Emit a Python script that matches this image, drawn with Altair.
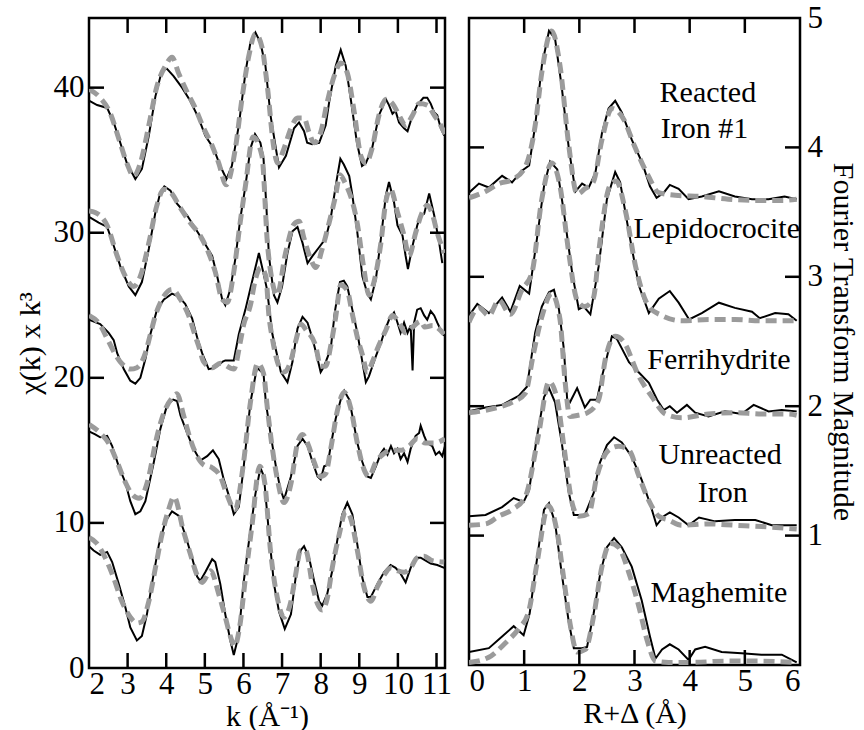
import altair as alt
import pandas as pd

FONT = "Liberation Serif"

# ---------------- k-space (left panel): [k, chi*k^3] ----------------
K_REACTED_DATA = [[2.0,39.1],[2.21,38.8],[2.47,38.6],[2.64,37.6],[2.81,36.2],[2.98,34.8],[3.2,33.7],[3.37,34.4],[3.55,36.7],[3.72,39.4],[3.89,41.2],[4.02,41.3],[4.19,40.8],[4.41,40.0],[4.62,39.1],[4.84,37.9],[5.01,36.7],[5.23,35.8],[5.4,34.6],[5.56,33.7],[5.7,34.6],[5.88,37.4],[6.05,41.0],[6.18,43.1],[6.31,43.8],[6.44,43.1],[6.57,41.5],[6.7,38.1],[6.92,34.5],[7.1,35.3],[7.31,37.2],[7.44,37.6],[7.57,37.0],[7.65,36.2],[7.78,36.1],[7.96,36.2],[8.13,37.4],[8.22,39.0],[8.39,41.5],[8.52,42.6],[8.65,41.5],[8.78,39.2],[8.94,36.2],[9.07,34.6],[9.17,34.8],[9.33,35.8],[9.51,38.1],[9.69,39.2],[9.77,38.8],[9.86,38.2],[9.94,38.4],[10.03,37.6],[10.16,37.2],[10.25,37.0],[10.38,38.1],[10.5,38.8],[10.66,39.3],[10.76,39.3],[10.85,38.9],[10.94,38.3],[11.02,38.1],[11.11,37.2],[11.2,36.7]]
K_REACTED_FIT = [[2.0,39.9],[2.29,39.3],[2.54,38.3],[2.77,36.5],[2.98,34.8],[3.16,33.9],[3.33,34.8],[3.55,37.4],[3.76,40.1],[3.98,41.5],[4.15,42.1],[4.32,41.0],[4.54,39.7],[4.75,38.6],[4.97,37.2],[5.19,36.0],[5.36,34.8],[5.55,33.3],[5.79,35.8],[5.96,39.2],[6.14,42.2],[6.31,43.7],[6.48,42.8],[6.61,40.3],[6.79,35.8],[6.88,34.8],[7.05,35.8],[7.23,37.2],[7.4,37.9],[7.57,37.9],[7.7,36.9],[7.83,36.2],[8.0,36.9],[8.17,39.0],[8.35,40.8],[8.52,41.7],[8.69,41.0],[8.87,38.3],[9.04,35.3],[9.17,34.8],[9.33,35.8],[9.51,38.1],[9.69,39.2],[9.86,38.9],[10.03,38.1],[10.2,37.4],[10.38,38.1],[10.55,38.9],[10.76,38.8],[10.94,38.1],[11.11,37.4],[11.22,36.8]]

K_LEPIDO_DATA = [[2.0,31.1],[2.25,30.7],[2.47,30.4],[2.64,29.1],[2.81,27.7],[3.03,26.3],[3.2,25.7],[3.37,26.6],[3.55,28.9],[3.72,31.4],[3.85,32.8],[3.95,33.2],[4.11,32.9],[4.28,32.0],[4.54,31.2],[4.8,30.1],[5.01,29.2],[5.19,28.4],[5.32,27.0],[5.45,25.4],[5.53,25.0],[5.66,26.1],[5.79,28.2],[5.92,31.0],[6.05,33.2],[6.18,35.8],[6.3,36.8],[6.44,36.2],[6.52,35.1],[6.59,32.0],[6.66,28.4],[6.79,25.7],[6.88,25.2],[7.0,26.3],[7.14,28.6],[7.27,30.1],[7.4,30.4],[7.53,29.3],[7.66,27.9],[7.79,28.4],[7.96,29.0],[8.13,29.6],[8.26,31.0],[8.4,33.4],[8.51,35.1],[8.6,34.7],[8.74,33.9],[8.82,32.6],[8.95,30.0],[9.08,27.0],[9.21,25.8],[9.3,25.4],[9.43,26.8],[9.56,29.6],[9.69,32.6],[9.77,33.5],[9.9,32.1],[9.99,30.5],[10.12,29.8],[10.2,28.4],[10.26,27.5],[10.38,29.1],[10.5,30.5],[10.59,31.2],[10.68,31.3],[10.81,32.7],[10.94,31.2],[11.07,29.3],[11.15,27.9]]
K_LEPIDO_FIT = [[2.0,31.5],[2.16,31.4],[2.47,30.5],[2.73,28.4],[2.94,27.0],[3.16,26.3],[3.33,27.0],[3.55,29.3],[3.76,31.9],[3.94,33.0],[4.11,32.8],[4.37,31.7],[4.62,30.7],[4.88,29.8],[5.1,28.6],[5.27,27.3],[5.45,25.4],[5.58,25.2],[5.75,27.3],[5.92,30.8],[6.05,33.2],[6.25,36.6],[6.48,35.3],[6.62,29.3],[6.75,26.6],[6.87,25.7],[7.09,28.6],[7.31,30.6],[7.44,30.8],[7.57,29.6],[7.74,28.2],[7.87,27.6],[8.04,28.9],[8.22,30.7],[8.39,32.6],[8.5,34.0],[8.62,33.5],[8.95,30.6],[9.12,27.5],[9.25,25.7],[9.38,26.6],[9.56,29.3],[9.69,32.2],[9.81,33.0],[9.99,31.4],[10.16,29.8],[10.29,28.4],[10.46,30.0],[10.63,31.4],[10.76,31.9],[10.89,31.3],[11.02,30.0],[11.2,28.6]]

K_FERRI_DATA = [[2.0,24.0],[2.29,23.7],[2.51,23.1],[2.64,22.6],[2.73,21.7],[2.9,20.6],[3.07,19.8],[3.2,19.6],[3.33,20.0],[3.46,21.3],[3.59,23.0],[3.76,24.7],[3.94,25.4],[4.15,25.8],[4.32,25.6],[4.49,25.1],[4.67,24.1],[4.8,22.8],[4.93,21.7],[5.1,20.6],[5.27,20.7],[5.45,21.1],[5.53,21.2],[5.75,21.2],[5.88,23.0],[6.05,24.7],[6.22,26.6],[6.4,28.6],[6.52,27.2],[6.61,26.1],[6.75,23.0],[6.97,20.4],[7.14,19.7],[7.27,21.1],[7.4,23.4],[7.53,24.2],[7.66,23.8],[7.79,22.7],[7.92,21.3],[8.0,20.4],[8.09,20.8],[8.26,22.0],[8.37,24.6],[8.5,26.6],[8.6,26.7],[8.69,26.3],[8.82,24.7],[8.95,23.1],[9.08,21.1],[9.17,19.7],[9.25,20.1],[9.34,20.8],[9.43,21.5],[9.56,22.4],[9.64,23.1],[9.77,24.0],[9.9,24.5],[9.99,23.8],[10.07,23.1],[10.16,23.8],[10.25,23.1],[10.33,23.6],[10.38,20.5],[10.42,23.8],[10.5,24.7],[10.59,24.8],[10.68,24.3],[10.76,24.0],[10.85,24.6],[10.94,24.3],[11.02,23.8],[11.11,23.3],[11.2,22.9]]
K_FERRI_FIT = [[2.0,24.3],[2.3,23.6],[2.47,22.7],[2.81,21.1],[3.07,20.6],[3.24,20.7],[3.46,21.7],[3.59,23.0],[3.72,24.3],[3.89,25.4],[4.15,26.1],[4.37,25.4],[4.58,24.3],[4.75,22.9],[4.84,22.2],[4.97,21.1],[5.19,20.7],[5.4,21.0],[5.75,20.6],[5.92,22.5],[6.0,23.6],[6.18,25.0],[6.31,26.8],[6.45,27.6],[6.58,27.0],[6.66,24.3],[6.75,22.7],[6.88,21.1],[7.05,20.4],[7.22,21.1],[7.36,22.6],[7.49,23.7],[7.62,23.3],[7.87,22.2],[8.0,20.8],[8.13,20.8],[8.26,22.2],[8.39,24.2],[8.52,26.4],[8.69,26.0],[8.82,24.4],[8.95,22.8],[9.08,21.6],[9.21,20.4],[9.34,21.1],[9.47,22.0],[9.69,23.3],[9.86,24.3],[10.03,23.8],[10.2,23.1],[10.38,23.5],[10.59,23.9],[10.7,23.5],[10.9,23.6],[11.2,23.0]]

K_UNREACT_DATA = [[2.0,16.3],[2.16,16.1],[2.29,15.9],[2.47,16.0],[2.6,15.3],[2.77,13.9],[2.94,12.8],[3.07,11.5],[3.2,10.6],[3.33,10.8],[3.46,11.5],[3.68,14.2],[3.85,16.5],[4.02,18.1],[4.18,18.5],[4.28,18.4],[4.37,17.4],[4.54,16.2],[4.71,15.1],[4.88,14.3],[5.06,14.6],[5.21,15.0],[5.36,14.4],[5.49,13.0],[5.62,11.9],[5.75,10.6],[5.88,11.1],[6.0,13.7],[6.18,18.3],[6.35,20.7],[6.52,20.3],[6.58,18.3],[6.71,16.0],[6.84,13.9],[6.95,12.4],[7.05,11.6],[7.23,13.2],[7.4,15.3],[7.53,15.8],[7.66,15.3],[7.79,14.2],[7.92,13.2],[8.0,13.0],[8.09,13.9],[8.18,14.0],[8.26,15.3],[8.39,17.2],[8.52,18.5],[8.61,19.1],[8.74,18.5],[8.82,17.4],[8.95,15.5],[9.08,14.2],[9.21,13.2],[9.3,13.1],[9.43,13.9],[9.56,14.8],[9.64,15.1],[9.73,14.7],[9.82,15.3],[9.9,14.8],[9.99,15.1],[10.07,14.4],[10.16,14.8],[10.25,14.2],[10.33,15.1],[10.46,16.0],[10.55,16.2],[10.59,16.7],[10.68,16.0],[10.76,15.5],[10.89,15.3],[10.98,14.7],[11.07,14.9],[11.15,14.6],[11.22,15.3]]
K_UNREACT_FIT = [[2.0,16.8],[2.29,16.2],[2.51,15.5],[2.73,14.2],[2.94,12.8],[3.11,12.0],[3.3,11.7],[3.55,13.2],[3.72,15.5],[3.94,17.6],[4.15,18.6],[4.28,18.9],[4.45,17.4],[4.62,15.8],[4.8,14.6],[4.97,14.0],[5.19,13.8],[5.4,13.2],[5.58,11.9],[5.78,10.9],[6.0,14.1],[6.18,18.3],[6.37,21.0],[6.52,20.3],[6.62,17.9],[6.75,15.1],[6.88,13.0],[7.05,11.4],[7.23,12.7],[7.4,15.5],[7.53,16.1],[7.66,15.5],[7.83,14.2],[8.0,13.2],[8.13,13.4],[8.26,15.1],[8.43,17.7],[8.61,19.0],[8.78,17.9],[8.95,15.5],[9.12,13.7],[9.25,13.2],[9.43,14.2],[9.6,14.7],[9.82,15.0],[10.07,15.0],[10.29,15.3],[10.5,15.8],[10.72,15.5],[10.94,15.5],[11.22,15.8]]

K_MAGH_DATA = [[2.0,8.4],[2.12,8.1],[2.29,7.8],[2.47,8.0],[2.6,7.3],[2.77,5.8],[2.94,4.2],[3.07,2.8],[3.24,1.9],[3.37,2.2],[3.5,3.7],[3.63,5.8],[3.81,8.5],[3.98,10.1],[4.15,10.8],[4.32,10.5],[4.49,9.2],[4.67,7.6],[4.8,6.3],[4.88,6.0],[5.01,6.6],[5.19,7.5],[5.27,7.3],[5.4,5.8],[5.53,3.7],[5.66,1.9],[5.75,0.9],[5.88,2.3],[6.0,5.8],[6.18,9.5],[6.31,12.0],[6.44,13.8],[6.53,13.2],[6.66,9.3],[6.79,5.8],[6.92,3.9],[7.07,2.7],[7.23,3.7],[7.35,6.2],[7.48,8.1],[7.57,8.4],[7.7,7.6],[7.83,6.0],[7.96,4.6],[8.04,4.3],[8.17,5.1],[8.3,6.7],[8.43,8.8],[8.56,10.6],[8.69,11.4],[8.82,10.6],[8.95,8.5],[9.08,6.2],[9.21,4.9],[9.3,4.9],[9.47,5.8],[9.64,6.6],[9.81,7.1],[9.94,6.9],[10.07,6.5],[10.2,5.9],[10.33,6.9],[10.46,7.6],[10.59,7.6],[10.72,7.4],[10.85,7.2],[11.02,7.1],[11.2,6.9]]
K_MAGH_FIT = [[2.0,9.0],[2.2,8.6],[2.42,7.6],[2.64,6.2],[2.85,4.6],[3.07,3.5],[3.24,3.1],[3.37,3.2],[3.55,4.6],[3.72,6.9],[3.89,9.2],[4.06,10.9],[4.2,11.8],[4.45,9.4],[4.62,7.9],[4.8,6.4],[4.93,5.9],[5.15,6.7],[5.36,5.1],[5.53,3.5],[5.66,2.2],[5.77,1.5],[5.9,2.8],[6.05,6.2],[6.22,9.8],[6.42,13.9],[6.55,12.8],[6.7,8.1],[6.88,4.8],[7.05,3.5],[7.23,4.6],[7.35,6.4],[7.48,8.1],[7.61,8.1],[7.79,5.7],[7.92,4.4],[8.04,4.0],[8.17,4.8],[8.3,6.9],[8.48,9.2],[8.65,10.8],[8.78,10.3],[8.95,8.1],[9.12,5.6],[9.3,4.6],[9.47,5.6],[9.64,6.4],[9.81,6.9],[9.99,6.7],[10.16,6.6],[10.33,6.9],[10.5,7.6],[10.68,7.7],[10.89,7.4],[11.2,7.3]]

# ---------------- R-space (right panel): [R, |FT|] ----------------
R_REACTED_DATA = [[0,3.65],[0.18,3.72],[0.36,3.69],[0.6,3.78],[0.78,3.73],[0.96,3.82],[1.09,3.86],[1.2,4.17],[1.32,4.63],[1.45,4.9],[1.56,4.84],[1.68,4.47],[1.81,3.99],[1.93,3.66],[2.05,3.72],[2.17,3.69],[2.29,3.8],[2.41,4.11],[2.53,4.3],[2.65,4.36],[2.77,4.27],[2.95,4.06],[3.14,3.88],[3.28,3.7],[3.4,3.61],[3.53,3.65],[3.64,3.71],[3.8,3.68],[3.98,3.6],[4.22,3.62],[4.53,3.66],[4.82,3.62],[5.13,3.6],[5.43,3.6],[5.72,3.62],[5.94,3.6]]
R_REACTED_FIT = [[0,3.61],[0.3,3.66],[0.54,3.72],[0.78,3.75],[1.02,3.85],[1.2,4.17],[1.32,4.58],[1.5,4.9],[1.65,4.63],[1.81,4.01],[1.96,3.64],[2.1,3.68],[2.25,3.73],[2.41,4.06],[2.59,4.3],[2.8,4.22],[3.0,4.01],[3.25,3.78],[3.44,3.65],[3.74,3.63],[4.22,3.62],[4.7,3.6],[5.19,3.59],[5.68,3.59],[5.94,3.6]]

R_LEPIDO_DATA = [[0,2.7],[0.15,2.79],[0.36,2.72],[0.6,2.84],[0.75,2.73],[0.92,2.93],[1.09,2.87],[1.23,3.29],[1.36,3.7],[1.47,3.89],[1.6,3.83],[1.72,3.5],[1.87,3.03],[1.99,2.75],[2.08,2.77],[2.2,2.71],[2.35,3.08],[2.5,3.6],[2.65,3.81],[2.74,3.73],[2.9,3.34],[3.08,2.93],[3.26,2.72],[3.44,2.83],[3.64,2.89],[3.8,2.8],[3.99,2.67],[4.22,2.72],[4.53,2.8],[4.82,2.76],[5.13,2.73],[5.27,2.68],[5.55,2.72],[5.79,2.71],[5.94,2.66]]
R_LEPIDO_FIT = [[0,2.65],[0.18,2.76],[0.36,2.7],[0.54,2.82],[0.75,2.71],[0.96,2.9],[1.14,3.03],[1.32,3.6],[1.5,3.88],[1.65,3.7],[1.81,3.18],[1.96,2.82],[2.1,2.77],[2.25,2.83],[2.38,3.29],[2.55,3.7],[2.67,3.74],[2.84,3.5],[3.02,3.08],[3.26,2.77],[3.5,2.7],[3.86,2.66],[4.34,2.67],[4.82,2.67],[5.31,2.66],[5.94,2.66]]

R_FERRI_DATA = [[0,1.96],[0.3,1.99],[0.6,2.01],[0.9,2.08],[1.05,2.15],[1.2,2.57],[1.32,2.77],[1.45,2.88],[1.54,2.9],[1.63,2.75],[1.72,2.44],[1.78,2.05],[1.83,2.03],[1.96,2.14],[2.1,1.99],[2.2,2.05],[2.32,2.05],[2.41,2.23],[2.5,2.38],[2.59,2.54],[2.68,2.52],[2.9,2.34],[3.08,2.26],[3.26,2.18],[3.41,2.05],[3.53,1.97],[3.64,2.0],[3.77,1.95],[3.95,2.01],[4.1,1.95],[4.34,1.92],[4.64,1.96],[4.94,1.94],[5.16,2.01],[5.43,1.96],[5.67,1.97],[5.94,1.96]]
R_FERRI_FIT = [[0,1.95],[0.42,1.98],[0.78,2.03],[1.02,2.1],[1.17,2.41],[1.32,2.69],[1.5,2.87],[1.65,2.67],[1.74,2.2],[1.83,1.92],[1.98,1.93],[2.15,1.95],[2.35,2.05],[2.47,2.36],[2.65,2.54],[2.8,2.5],[3.08,2.23],[3.32,2.07],[3.56,1.94],[3.86,1.91],[4.34,1.94],[4.82,1.95],[5.31,1.94],[5.79,1.94],[5.94,1.93]]

R_UNREACT_DATA = [[0,1.15],[0.3,1.16],[0.6,1.22],[0.81,1.29],[0.99,1.26],[1.09,1.35],[1.23,1.76],[1.36,2.07],[1.45,2.14],[1.56,2.03],[1.68,1.72],[1.81,1.33],[1.9,1.16],[2.1,1.16],[2.26,1.33],[2.37,1.56],[2.5,1.7],[2.63,1.76],[2.77,1.72],[2.95,1.61],[3.13,1.43],[3.28,1.25],[3.4,1.08],[3.53,1.15],[3.64,1.18],[3.8,1.14],[3.98,1.08],[4.17,1.14],[4.46,1.11],[4.82,1.12],[5.19,1.12],[5.49,1.08],[5.94,1.08]]
R_UNREACT_FIT = [[0,1.08],[0.3,1.09],[0.54,1.15],[0.78,1.2],[1.02,1.3],[1.26,1.78],[1.45,2.19],[1.6,2.05],[1.72,1.69],[1.87,1.25],[1.99,1.15],[2.17,1.17],[2.32,1.46],[2.53,1.66],[2.71,1.69],[2.9,1.66],[3.08,1.46],[3.26,1.27],[3.44,1.15],[3.62,1.12],[3.86,1.08],[4.34,1.09],[4.82,1.08],[5.31,1.07],[5.94,1.05]]

R_MAGH_DATA = [[0,0.1],[0.36,0.13],[0.6,0.22],[0.81,0.3],[0.99,0.23],[1.1,0.4],[1.23,0.81],[1.36,1.2],[1.45,1.25],[1.56,1.1],[1.68,0.71],[1.81,0.33],[1.9,0.13],[2.05,0.13],[2.14,0.14],[2.26,0.4],[2.38,0.71],[2.5,0.91],[2.63,0.98],[2.77,0.91],[2.95,0.76],[3.13,0.5],[3.28,0.22],[3.38,0.05],[3.5,0.12],[3.64,0.16],[3.8,0.12],[3.98,0.04],[4.1,0.12],[4.28,0.14],[4.58,0.1],[4.94,0.09],[5.3,0.08],[5.67,0.08],[5.94,0.02]]
R_MAGH_FIT = [[0,0.02],[0.36,0.06],[0.66,0.17],[0.9,0.28],[1.08,0.41],[1.23,0.78],[1.44,1.23],[1.6,1.02],[1.72,0.66],[1.84,0.3],[1.96,0.1],[2.11,0.12],[2.26,0.38],[2.41,0.76],[2.56,0.94],[2.71,0.91],[2.9,0.71],[3.08,0.45],[3.23,0.19],[3.38,0.03],[3.62,0.02],[4.04,0.02],[4.64,0.03],[5.25,0.03],[5.94,0.02]]

SERIES = ["Reacted Iron #1", "Lepidocrocite", "Ferrihydrite", "Unreacted Iron", "Maghemite"]
K_DATA = [K_REACTED_DATA, K_LEPIDO_DATA, K_FERRI_DATA, K_UNREACT_DATA, K_MAGH_DATA]
K_FIT = [K_REACTED_FIT, K_LEPIDO_FIT, K_FERRI_FIT, K_UNREACT_FIT, K_MAGH_FIT]
R_DATA = [R_REACTED_DATA, R_LEPIDO_DATA, R_FERRI_DATA, R_UNREACT_DATA, R_MAGH_DATA]
R_FIT = [R_REACTED_FIT, R_LEPIDO_FIT, R_FERRI_FIT, R_UNREACT_FIT, R_MAGH_FIT]

# label texts and their anchor positions (R, |FT|) in the right panel
LABEL_TEXT = ["Reacted", "Iron #1", "Lepidocrocite", "Ferrihydrite", "Unreacted", "Iron", "Maghemite"]
LABEL_R = [4.33, 4.27, 4.49, 4.53, 4.55, 4.6, 4.53]
LABEL_V = [4.35, 4.07, 3.30, 2.29, 1.55, 1.26, 0.49]

K_LABELS = [2, 3, 4, 5, 6, 7, 8, 9, 10, 11]
K_TICKS = [3, 4, 5, 6, 7, 8, 9, 10, 11]
CHI_LABELS = [0, 10, 20, 30, 40]
CHI_TICKS = [10, 20, 30, 40]
R_LABELS = [0, 1, 2, 3, 4, 5, 6]
R_TICKS = [1, 2, 3, 4, 5]
FT_LABELS = [1, 2, 3, 4, 5]
FT_TICKS = [1, 2, 3, 4]


def long_df(curves):
    frames = []
    for name, pts in zip(SERIES, curves):
        d = pd.DataFrame(pts, columns=["x", "y"])
        d["s"] = name
        frames.append(d)
    return pd.concat(frames, ignore_index=True)


TL = 15  # inward tick length (px)
GRAY = "#9b9b9b"


def panel(data_curves, fit_curves, xdom, ydom, xlabels, xticks, ylabels, yticks,
          xtitle, ytitle, yorient, W, H, ylabpad, ytitlepad, text_df=None):
    sx = alt.Scale(domain=xdom, nice=False, zero=False)
    sy = alt.Scale(domain=ydom, nice=False, zero=False)
    ax = alt.Axis(values=xlabels, title=xtitle, orient="bottom", labelPadding=1,
                  titlePadding=2, format="d")
    ay = alt.Axis(values=ylabels, title=ytitle, orient=yorient, labelPadding=ylabpad,
                  titlePadding=ytitlepad, format="d")
    X = alt.X("x:Q", scale=sx, axis=ax)
    Y = alt.Y("y:Q", scale=sy, axis=ay)

    black = alt.Chart(long_df(data_curves)).mark_line(
        color="black", strokeWidth=2, clip=True, interpolate="linear"
    ).encode(x=X, y=Y, detail="s:N")
    gray = alt.Chart(long_df(fit_curves)).mark_line(
        color=GRAY, strokeWidth=5, strokeDash=[11, 6], clip=True, interpolate="monotone"
    ).encode(x=X, y=Y, detail="s:N")

    xt = pd.DataFrame({"x": xticks})
    yt = pd.DataFrame({"y": yticks})
    rule = dict(color="black", strokeWidth=2.5)
    top = alt.Chart(xt).mark_rule(**rule).encode(x=X, y=alt.value(0), y2=alt.value(TL))
    bot = alt.Chart(xt).mark_rule(**rule).encode(x=X, y=alt.value(H - TL), y2=alt.value(H))
    lft = alt.Chart(yt).mark_rule(**rule).encode(y=Y, x=alt.value(0), x2=alt.value(TL))
    rgt = alt.Chart(yt).mark_rule(**rule).encode(y=Y, x=alt.value(W - TL), x2=alt.value(W))

    layers = [black, gray, top, bot, lft, rgt]
    if text_df is not None:
        txt = alt.Chart(text_df).mark_text(
            font=FONT, fontSize=30, align="center", baseline="alphabetic", color="black"
        ).encode(x=X, y=Y, text="t:N")
        layers.append(txt)
    return alt.layer(*layers).properties(width=W, height=H)


left = panel(K_DATA, K_FIT, [2, 11.22], [0, 44.8], K_LABELS, K_TICKS, CHI_LABELS, CHI_TICKS,
             "k (Å⁻¹)", "χ(k) x k³", "left", 356, 650, 5, 8)

labels_df = pd.DataFrame({"x": LABEL_R, "y": LABEL_V, "t": LABEL_TEXT})
right = panel(R_DATA, R_FIT, [0, 6], [0, 5], R_LABELS, R_TICKS, FT_LABELS, FT_TICKS,
              "R+Δ (Å)", "Fourier Transform Magnitude", "right", 331, 647, 7, 5,
              text_df=labels_df)

chart = alt.hconcat(left, right, spacing=13).properties(
    padding={"left": 13, "top": 0, "right": 4, "bottom": 0}
).configure_view(
    stroke="black", strokeWidth=2.5
).configure_axis(
    labelFont=FONT, labelFontSize=31, labelColor="black",
    titleFont=FONT, titleFontSize=30, titleFontWeight="normal", titleColor="black",
    grid=False, domain=False, ticks=False
)

chart.save("out.html", embed_options={"renderer": "svg", "actions": False})
